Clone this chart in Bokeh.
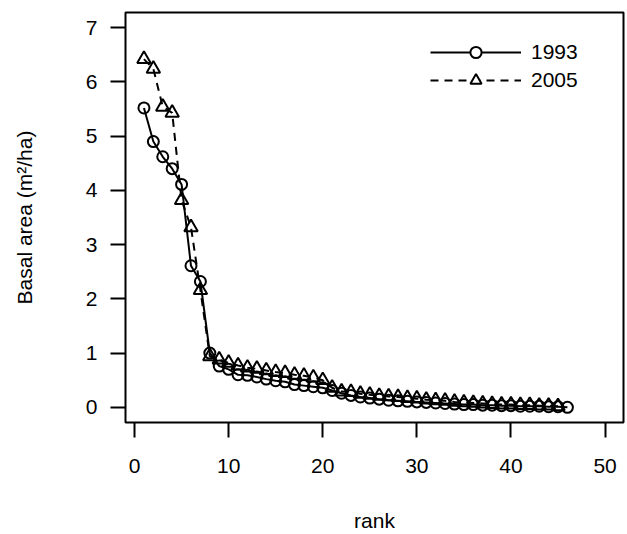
import numpy as np
from bokeh.plotting import figure
from bokeh.models import Legend, LegendItem, ColumnDataSource, FixedTicker, Range1d
from bokeh.embed import file_html
from bokeh.resources import INLINE

# ---- data ----
rank_1993 = list(range(1, 47))
ba_1993 = [5.52, 4.90, 4.62, 4.40, 4.11, 2.61, 2.32, 1.00,
           0.76, 0.70, 0.60, 0.59, 0.56, 0.52, 0.49, 0.47, 0.42, 0.40, 0.38, 0.36,
           0.31, 0.26, 0.22, 0.19, 0.17, 0.15, 0.13, 0.12, 0.11, 0.10,
           0.09, 0.08, 0.07, 0.06, 0.05, 0.05, 0.04, 0.04, 0.03, 0.03,
           0.02, 0.02, 0.02, 0.01, 0.01, 0.00]
rank_2005 = list(range(1, 46))
ba_2005 = [6.42, 6.24, 5.54, 5.43, 3.82, 3.32, 2.16, 0.94,
           0.88, 0.82, 0.77, 0.73, 0.71, 0.68, 0.65, 0.63, 0.60, 0.58, 0.55, 0.50,
           0.36, 0.29, 0.28, 0.25, 0.23, 0.21, 0.20, 0.19, 0.17, 0.16,
           0.14, 0.13, 0.12, 0.10, 0.09, 0.08, 0.07, 0.06, 0.05, 0.05,
           0.04, 0.04, 0.03, 0.03, 0.02]
series_labels = ["1993", "2005"]
x_ticks = [0, 10, 20, 30, 40, 50]
y_ticks = [0, 1, 2, 3, 4, 5, 6, 7]
x_title = "rank"
y_title = "Basal area (m\u00b2/ha)"

FONT = "Liberation Sans"
FS = "21px"
CIRCLE_SIZE = 11
TRI_SIZE = 13.5

p = figure(width=627, height=534, output_backend="svg", toolbar_location=None,
           x_range=Range1d(-0.96, 51.96), y_range=Range1d(-0.28, 7.28),
           min_border_left=125, min_border_right=4, min_border_top=12, min_border_bottom=110)
p.background_fill_color = "white"
p.border_fill_color = "white"
p.grid.visible = False
p.outline_line_color = "black"
p.outline_line_width = 2

for ax in (p.xaxis[0], p.yaxis[0]):
    ax.axis_line_color = None
    ax.major_tick_out = 15
    ax.major_tick_in = 0
    ax.major_tick_line_width = 2
    ax.major_tick_line_color = "black"
    ax.minor_tick_line_color = None
    ax.major_label_text_font = FONT
    ax.major_label_text_font_size = FS
    ax.major_label_text_color = "black"
    ax.axis_label_text_font = FONT
    ax.axis_label_text_font_size = FS
    ax.axis_label_text_font_style = "normal"
    ax.axis_label_text_color = "black"

p.xaxis.ticker = FixedTicker(ticks=x_ticks)
p.yaxis.ticker = FixedTicker(ticks=y_ticks)
p.xaxis.axis_label = x_title
p.yaxis.axis_label = y_title
p.xaxis.major_label_standoff = 21
p.xaxis.axis_label_standoff = 33
p.yaxis.major_label_standoff = 13
p.yaxis.axis_label_standoff = 47

src93 = ColumnDataSource(dict(x=rank_1993, y=ba_1993))
src05 = ColumnDataSource(dict(x=rank_2005, y=ba_2005))

l93 = p.line("x", "y", source=src93, line_color="black", line_width=2)
m93 = p.scatter("x", "y", source=src93, marker="circle", size=CIRCLE_SIZE,
                fill_color=None, line_color="black", line_width=2)
l05 = p.line("x", "y", source=src05, line_color="black", line_width=2, line_dash="8 6")
m05 = p.scatter("x", "y", source=src05, marker="triangle", size=TRI_SIZE,
                fill_color=None, line_color="black", line_width=2)

# legend-only markers (white filled, not drawn in the plot: NaN position)
nan_src = ColumnDataSource(dict(x=np.array([np.nan]), y=np.array([np.nan])))
e93 = p.scatter("x", "y", source=nan_src, marker="circle", size=CIRCLE_SIZE, fill_color="white",
                line_color="black", line_width=2)
e05 = p.scatter("x", "y", source=nan_src, marker="triangle", size=TRI_SIZE, fill_color="white",
                line_color="black", line_width=2)

legend = Legend(items=[LegendItem(label=series_labels[0], renderers=[l93, e93]),
                       LegendItem(label=series_labels[1], renderers=[l05, e05])],
                location=(305, 328))
legend.glyph_width = 91
legend.glyph_height = 28
legend.label_height = 28
legend.spacing = 0
legend.padding = 0
legend.margin = 0
legend.label_standoff = 10
legend.label_text_font = FONT
legend.label_text_font_size = FS
legend.label_text_color = "black"
legend.border_line_color = None
legend.background_fill_alpha = 0
p.add_layout(legend)

open("out.html", "w").write(file_html(p, INLINE))
